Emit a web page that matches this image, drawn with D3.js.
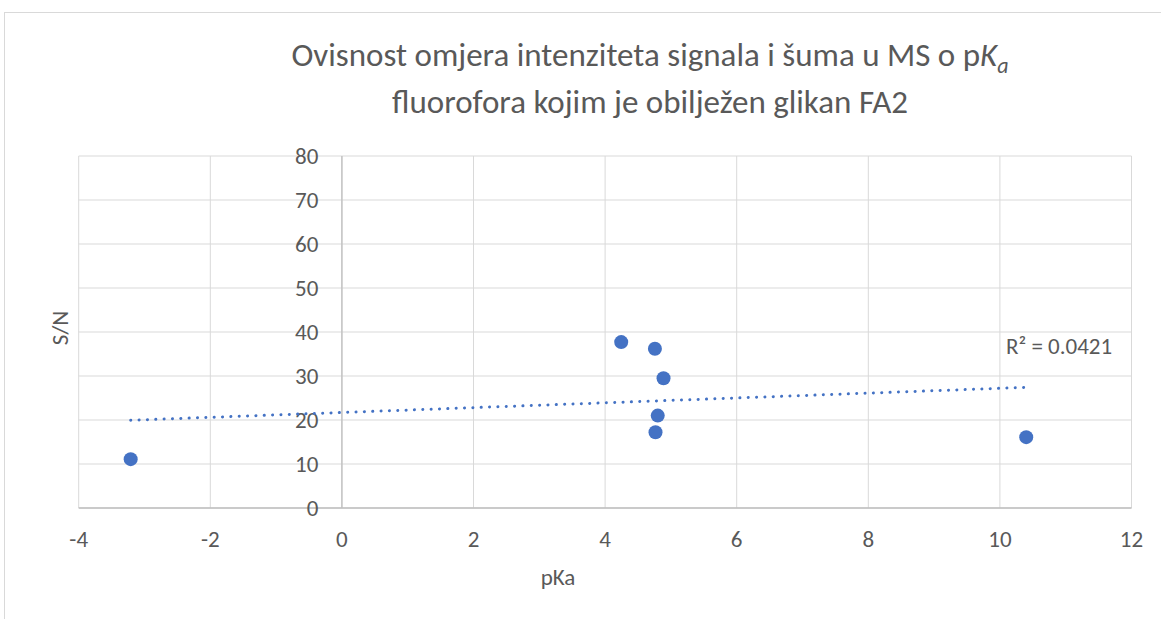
<!DOCTYPE html>
<html>
<head>
<meta charset="utf-8">
<script src="https://cdnjs.cloudflare.com/ajax/libs/d3/7.8.5/d3.min.js"></script>
<style>
  body { margin: 0; background: #fff; }
  text { font-family: Carlito, Lato, "Open Sans", sans-serif; fill: #595959; }
</style>
</head>
<body>
<div id="chart"></div>
<script>
// values
var pKa = [-3.21, 4.245, 4.757, 4.888, 4.80, 4.766, 10.40];
var sn  = [11.1, 37.7, 36.2, 29.5, 21.0, 17.2, 16.1];
var xTicks = [-4, -2, 0, 2, 4, 6, 8, 10, 12];
var yTicks = [0, 10, 20, 30, 40, 50, 60, 70, 80];
var titleLines = ["Ovisnost omjera intenziteta signala i šuma u MS o p", "fluorofora kojim je obilježen glikan FA2"];
var r2Label = "R² = 0.0421";

var width = 1161, height = 619;
var svg = d3.select("#chart").append("svg")
    .attr("width", width)
    .attr("height", height);

// chart area border
svg.append("rect")
    .attr("x", 4.5).attr("y", 12.5)
    .attr("width", width + 10).attr("height", height + 10)
    .attr("fill", "none").attr("stroke", "#d9d9d9");

var x = d3.scaleLinear().domain([-4, 12]).range([78.7, 1131.5]);
var y = d3.scaleLinear().domain([0, 80]).range([508, 156]);

// gridlines
var g = svg.append("g");
g.selectAll(".vg").data(xTicks).enter().append("line")
    .attr("x1", function(d) { return x(d); }).attr("x2", function(d) { return x(d); })
    .attr("y1", y(0)).attr("y2", y(80))
    .attr("stroke", "#d9d9d9").attr("stroke-width", 1);
g.selectAll(".hg").data(yTicks).enter().append("line")
    .attr("x1", x(-4)).attr("x2", x(12))
    .attr("y1", function(d) { return y(d); }).attr("y2", function(d) { return y(d); })
    .attr("stroke", "#d9d9d9").attr("stroke-width", 1);

// axis lines
svg.append("line")
    .attr("x1", x(-4)).attr("x2", x(12)).attr("y1", y(0)).attr("y2", y(0))
    .attr("stroke", "#bfbfbf").attr("stroke-width", 1.3);
svg.append("line")
    .attr("x1", x(0)).attr("x2", x(0)).attr("y1", y(0)).attr("y2", y(80))
    .attr("stroke", "#bfbfbf").attr("stroke-width", 1.3);

// tick labels
svg.selectAll(".xl").data(xTicks).enter().append("text")
    .attr("x", function(d) { return x(d); })
    .attr("y", 547)
    .attr("text-anchor", "middle")
    .style("font-size", "23px")
    .text(function(d) { return d; });
svg.selectAll(".yl").data(yTicks).enter().append("text")
    .attr("x", x(0) - 23.5)
    .attr("y", function(d) { return y(d) + 8; })
    .attr("text-anchor", "end")
    .style("font-size", "23px")
    .text(function(d) { return d; });

// axis titles
svg.append("text")
    .attr("x", 558).attr("y", 585)
    .attr("text-anchor", "middle")
    .style("font-size", "23px")
    .text("pKa");
svg.append("text")
    .attr("transform", "translate(67.5," + 328 + ") rotate(-90)")
    .attr("text-anchor", "middle")
    .style("font-size", "23px")
    .text("S/N");

// title
var t1 = svg.append("text")
    .attr("x", 650).attr("y", 66)
    .attr("text-anchor", "middle")
    .style("font-size", "33px");
t1.append("tspan").text(titleLines[0]);
t1.append("tspan").style("font-style", "italic").text("K");
t1.append("tspan").style("font-style", "italic").style("font-size", "22px").attr("dy", 7).text("a");
svg.append("text")
    .attr("x", 650).attr("y", 113)
    .attr("text-anchor", "middle")
    .style("font-size", "33px")
    .text(titleLines[1]);

// linear trendline from the points
var pts = pKa.map(function(v, i) { return [v, sn[i]]; });
var mx = d3.mean(pKa), my = d3.mean(sn);
var sxy = d3.sum(pts, function(p) { return (p[0] - mx) * (p[1] - my); });
var sxx = d3.sum(pts, function(p) { return (p[0] - mx) * (p[0] - mx); });
var slope = sxy / sxx, icpt = my - slope * mx;
var xr = d3.extent(pKa);
svg.append("line")
    .attr("x1", x(xr[0])).attr("y1", y(icpt + slope * xr[0]))
    .attr("x2", x(xr[1])).attr("y2", y(icpt + slope * xr[1]))
    .attr("stroke", "#4472c4").attr("stroke-width", 3)
    .attr("stroke-linecap", "round")
    .attr("stroke-dasharray", "0.1 8.25");

svg.append("text")
    .attr("x", 1006).attr("y", 354)
    .style("font-size", "23px")
    .text(r2Label);

// points
svg.selectAll(".pt").data(pts).enter().append("circle")
    .attr("cx", function(d) { return x(d[0]); })
    .attr("cy", function(d) { return y(d[1]); })
    .attr("r", 7)
    .attr("fill", "#4472c4");
</script>
</body>
</html>
